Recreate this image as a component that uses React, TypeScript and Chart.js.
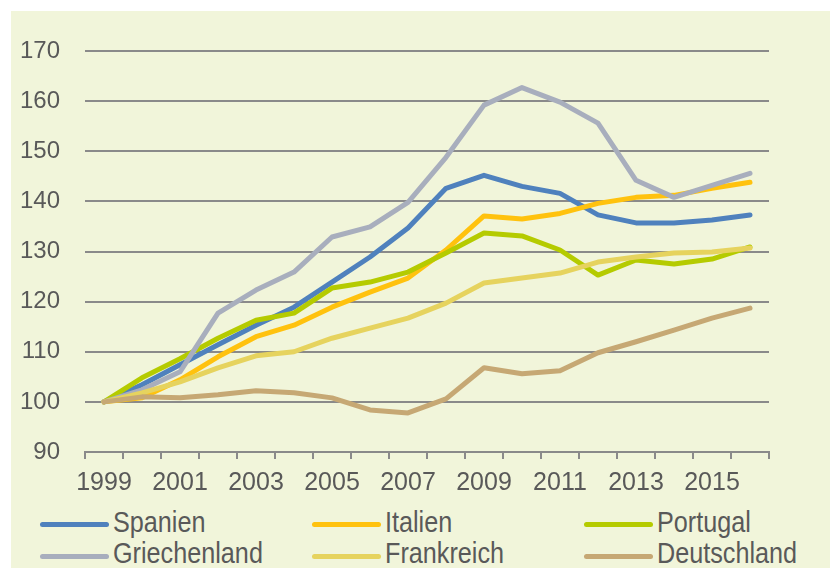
import React, { useEffect, useRef } from 'react';
import { Chart, registerables } from 'chart.js';

Chart.register(...registerables);

const years = ['1999', '2000', '2001', '2002', '2003', '2004', '2005', '2006', '2007', '2008', '2009', '2010', '2011', '2012', '2013', '2014', '2015', '2016'];
const yTicks = [90, 100, 110, 120, 130, 140, 150, 160, 170];

const spanien = [100, 103.4, 107.4, 111.4, 115.3, 118.9, 123.9, 128.9, 134.7, 142.6, 145.2, 143.0, 141.6, 137.3, 135.7, 135.7, 136.3, 137.3];
const italien = [100, 100.8, 104.4, 109.0, 113.0, 115.3, 118.9, 121.9, 124.7, 130.3, 137.1, 136.5, 137.6, 139.6, 140.8, 141.2, 142.6, 143.8];
const portugal = [100, 104.8, 108.6, 112.7, 116.3, 117.7, 122.7, 123.9, 125.9, 129.7, 133.7, 133.1, 130.3, 125.3, 128.3, 127.5, 128.5, 130.9];
const griechenland = [100, 102.4, 106.0, 117.7, 122.3, 125.9, 132.9, 134.9, 139.8, 148.8, 159.2, 162.7, 159.8, 155.6, 144.2, 140.8, 143.2, 145.6];
const frankreich = [100, 101.8, 104.0, 106.8, 109.2, 110.0, 112.7, 114.7, 116.7, 119.7, 123.7, 124.7, 125.7, 127.9, 128.9, 129.7, 129.9, 130.7];
const deutschland = [100, 101.0, 100.8, 101.4, 102.2, 101.8, 100.8, 98.4, 97.8, 100.6, 106.8, 105.6, 106.2, 109.8, 112.0, 114.3, 116.7, 118.7];

const seriesNames = ['Spanien', 'Italien', 'Portugal', 'Griechenland', 'Frankreich', 'Deutschland'];
const seriesData = [spanien, italien, portugal, griechenland, frankreich, deutschland];
const seriesColors = ['#4F81BD', '#FFC20E', '#B5CB00', '#A8AEBD', '#E6D35E', '#C6A874'];

const GRID = '#8A8A8A';
const TEXT = '#595959';
const SANS = '"Liberation Sans", Arial, sans-serif';

export default function App() {
  const ref = useRef<HTMLCanvasElement | null>(null);

  useEffect(() => {
    if (!ref.current) return;
    const n = seriesNames.length;
    const chart = new Chart(ref.current, {
      type: 'line',
      data: {
        labels: years,
        datasets: seriesNames.map((name, i) => ({
          label: name,
          data: seriesData[i],
          borderColor: seriesColors[i],
          backgroundColor: seriesColors[i],
          borderWidth: 5,
          pointRadius: 0,
          tension: 0,
          borderCapStyle: 'round' as const,
          borderJoinStyle: 'round' as const,
          order: n - 1 - i,
        })),
      },
      options: {
        responsive: false,
        animation: false,
        layout: { padding: { left: 0, right: 61, top: 40, bottom: 0 } },
        plugins: { legend: { display: false }, tooltip: { enabled: false } },
        scales: {
          x: {
            type: 'category',
            offset: true,
            grid: {
              display: true,
              offset: true,
              drawOnChartArea: false,
              drawTicks: true,
              tickLength: 7,
              color: GRID,
              lineWidth: 2,
            },
            border: { display: true, color: GRID, width: 2 },
            ticks: {
              autoSkip: false,
              maxRotation: 0,
              minRotation: 0,
              padding: 9,
              color: TEXT,
              font: { family: SANS, size: 25 },
              callback: (_v: any, idx: number) => (idx % 2 === 0 ? years[idx] : ''),
            },
            afterFit: (scale: any) => { scale.height = 53; },
          },
          y: {
            min: 90,
            max: 170,
            afterBuildTicks: (scale: any) => { scale.ticks = yTicks.map((v) => ({ value: v })); },
            grid: { color: GRID, lineWidth: 2, drawTicks: false },
            border: { display: false },
            ticks: {
              padding: 25,
              color: TEXT,
              font: { family: SANS, size: 24 },
            },
            afterFit: (scale: any) => { scale.width = 74; },
          },
        },
      },
    });
    return () => chart.destroy();
  }, []);

  const legendItems = seriesNames.map((name, i) => {
    const c = i % 3;
    const r = Math.floor(i / 3);
    return (
      <React.Fragment key={name}>
        <div style={{
          position: 'absolute', left: 29 + 272 * c, top: 510.5 + 32 * r,
          width: 69, height: 5, borderRadius: 3, background: seriesColors[i],
        }} />
        <div style={{
          position: 'absolute', left: 102 + 272 * c, top: 496 + 31 * r,
          fontFamily: SANS, fontSize: 30, lineHeight: '30px', color: TEXT, whiteSpace: 'nowrap',
          transform: 'scaleX(0.84)', transformOrigin: 'left center',
        }}>{name}</div>
      </React.Fragment>
    );
  });

  return (
    <div style={{ position: 'absolute', left: 0, top: 0, width: 830, height: 568, background: '#ffffff', overflow: 'hidden' }}>
      <div style={{ position: 'absolute', left: 11, top: 11, width: 819, height: 557, background: '#F1F5DA' }}>
        <canvas ref={ref} width={819} height={494} style={{ position: 'absolute', left: 0, top: 0 }} />
        {legendItems}
      </div>
    </div>
  );
}
